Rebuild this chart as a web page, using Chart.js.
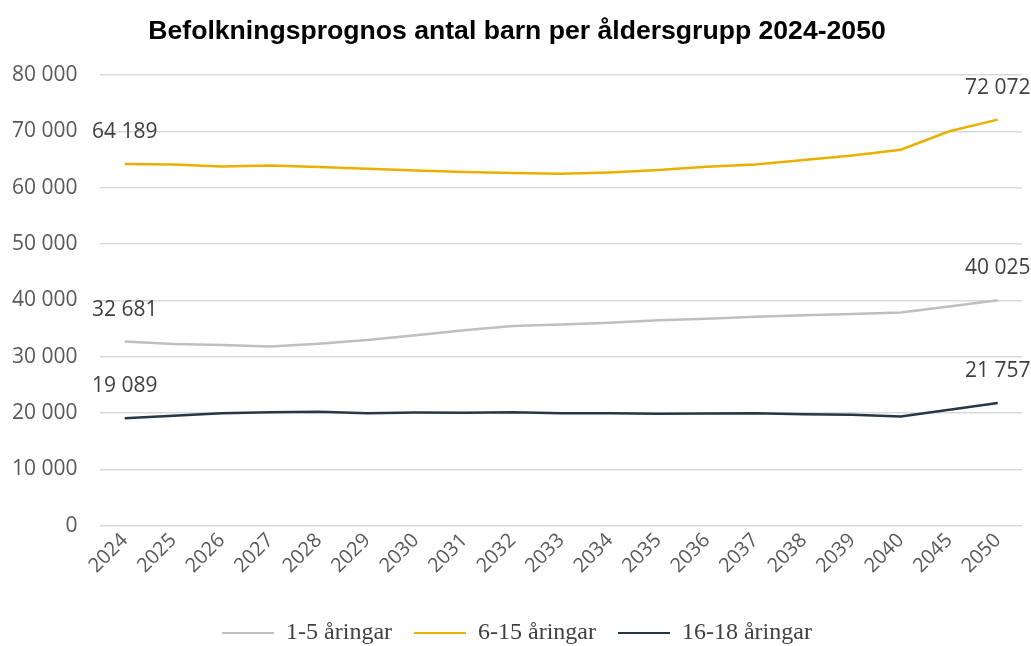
<!DOCTYPE html>
<html>
<head>
<meta charset="utf-8">
<script src="https://cdn.jsdelivr.net/npm/chart.js@4/dist/chart.umd.min.js"></script>
<style>
  html, body { margin: 0; padding: 0; background: #fff; }
  #wrap { width: 1031px; height: 646px; position: relative; }
</style>
</head>
<body>
<div id="wrap"><canvas id="chart"></canvas></div>
<script>
const years = ['2024', '2025', '2026', '2027', '2028', '2029', '2030', '2031', '2032', '2033',
    '2034', '2035', '2036', '2037', '2038', '2039', '2040', '2045', '2050'];

// 1-5 åringar
const age1to5 = [32681, 32240, 32060, 31820, 32300, 32950, 33780, 34670, 35430, 35700,
    36030, 36440, 36740, 37100, 37330, 37570, 37840, 38900, 40025];
// 6-15 åringar
const age6to15 = [64189, 64100, 63760, 63940, 63640, 63350, 63050, 62760, 62580, 62460,
    62700, 63110, 63700, 64120, 64890, 65720, 66720, 70000, 72072];
// 16-18 åringar
const age16to18 = [19089, 19500, 19970, 20150, 20210, 19970, 20090, 20030, 20150, 19970,
    19970, 19850, 19910, 19970, 19790, 19670, 19380, 20580, 21757];

const yTicks = [0, 10000, 20000, 30000, 40000, 50000, 60000, 70000, 80000];

function fmt(n) {
    return String(n).replace(/\B(?=(\d{3})+(?!\d))/g, ' ');
}

// etiketter på första och sista punkten
const endLabels = {
    id: 'endLabels',
    afterDatasetsDraw(chart) {
        const ctx = chart.ctx;
        ctx.save();
        ctx.font = '21px "Open Sans"';
        ctx.fillStyle = '#404040';
        ctx.textAlign = 'center';
        ctx.textBaseline = 'middle';
        chart.data.datasets.forEach((ds, i) => {
            const meta = chart.getDatasetMeta(i);
            [0, ds.data.length - 1].forEach(idx => {
                const pt = meta.data[idx];
                ctx.fillText(fmt(ds.data[idx]), pt.x, pt.y - 32);
            });
        });
        ctx.restore();
    }
};

const ctx = document.getElementById('chart').getContext('2d');
new Chart(ctx, {
    type: 'line',
    data: {
        labels: years,
        datasets: [
            {
                label: '1-5 åringar',
                data: age1to5,
                borderColor: '#BFBFBF',
                backgroundColor: '#BFBFBF',
                borderWidth: 2.5,
                pointRadius: 0,
                tension: 0
            },
            {
                label: '6-15 åringar',
                data: age6to15,
                borderColor: '#EAB000',
                backgroundColor: '#EAB000',
                borderWidth: 2.5,
                pointRadius: 0,
                tension: 0
            },
            {
                label: '16-18 åringar',
                data: age16to18,
                borderColor: '#263746',
                backgroundColor: '#263746',
                borderWidth: 2.5,
                pointRadius: 0,
                tension: 0
            }
        ]
    },
    options: {
        responsive: true,
        maintainAspectRatio: false,
        animation: false,
        layout: { padding: { left: 12, right: 9, top: 0, bottom: -9 } },
        plugins: {
            title: {
                display: true,
                text: 'Befolkningsprognos antal barn per åldersgrupp 2024-2050',
                color: '#000',
                font: { family: '"Liberation Sans", Arial, sans-serif', size: 26.6, weight: 'bold' },
                padding: { top: 16, bottom: 27 }
            },
            legend: {
                position: 'bottom',
                labels: {
                    color: '#404040',
                    font: { family: '"Liberation Serif", "Times New Roman", serif', size: 24 },
                    boxWidth: 52,
                    boxHeight: 2,
                    padding: 22,
                    generateLabels(chart) {
                        const items = Chart.defaults.plugins.legend.labels.generateLabels(chart);
                        items.forEach(it => { it.lineWidth = 0; });
                        return items;
                    }
                }
            },
            tooltip: { enabled: false }
        },
        scales: {
            x: {
                offset: true,
                grid: { display: false, drawTicks: false },
                border: { display: false },
                ticks: {
                    color: '#595959',
                    font: { family: '"Open Sans"', size: 20 },
                    minRotation: 45,
                    maxRotation: 45,
                    padding: 3,
                    autoSkip: false
                },
                afterFit(axis) {
                    axis.paddingLeft = 0;
                    axis.paddingRight = 0;
                    axis.height += 18;
                }
            },
            y: {
                min: 0,
                max: 80000,
                afterBuildTicks(axis) {
                    axis.ticks = yTicks.map(v => ({ value: v }));
                },
                afterFit(axis) {
                    axis.width -= 23;
                },
                grid: { color: '#D9D9D9', lineWidth: 1.5, drawTicks: false },
                border: { display: false },
                ticks: {
                    color: '#595959',
                    font: { family: '"Open Sans"', size: 21 },
                    padding: 23,
                    callback: v => fmt(v)
                }
            }
        }
    },
    plugins: [endLabels]
});
</script>
</body>
</html>
